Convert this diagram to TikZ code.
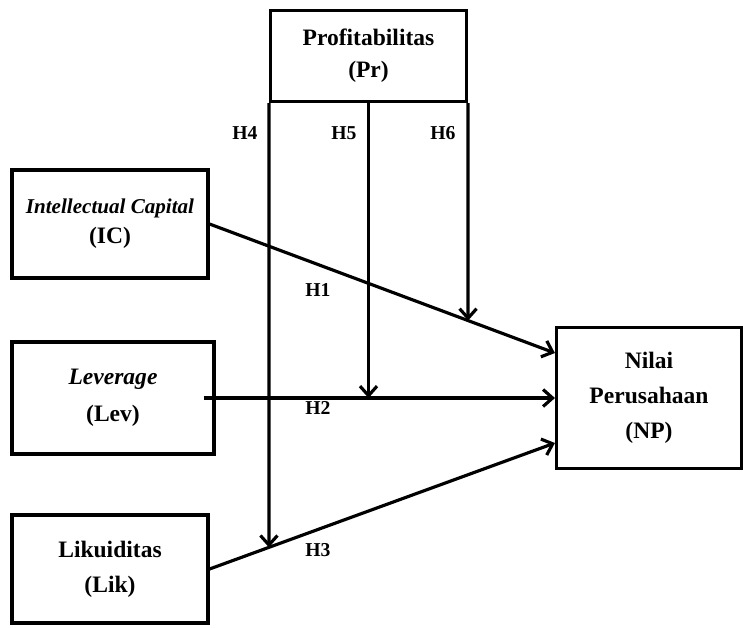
\documentclass[tikz,border=0pt]{standalone}
\usepackage{fontspec}
\setmainfont{Liberation Serif}
\usetikzlibrary{arrows.meta, positioning, calc}
\tikzset{
  varbox/.style={rectangle, draw=black, line width=1.8pt, fill=white, align=center, inner sep=0pt, font=\bfseries\fontsize{13.4}{19}\selectfont},
  hlabel/.style={font=\bfseries\fontsize{11.2}{13}\selectfont, inner sep=0pt},
  myarrow/.style={-{Straight Barb[length=1.9mm, width=3.4mm, line width=1.8pt]}, line width=1.8pt, black},
}

\begin{document}
\begin{tikzpicture}[x=0.02cm, y=-0.02cm]
  \useasboundingbox (0,0) rectangle (743,627);

  % variables
  \node[varbox, minimum width=3.92cm, minimum height=1.82cm] (pr) at (368.5,56) {Profitabilitas\\[-1pt](Pr)};
  \node[varbox, minimum width=3.92cm, minimum height=2.16cm] (ic) at (110,224) {{\itshape\fontsize{12}{16}\selectfont Intellectual Capital}\\[-2pt](IC)};
  \node[varbox, minimum width=4.04cm, minimum height=2.24cm] (lev) at (113,398) {\textit{Leverage}\\[2pt](Lev)};
  \node[varbox, minimum width=3.92cm, minimum height=2.16cm] (lik) at (110,569) {Likuiditas\\[1pt](Lik)};
  \node[varbox, minimum width=3.7cm, minimum height=2.82cm] (np) at (649,398) {Nilai\\[1pt]Perusahaan\\[1pt](NP)};

  % end points on the dependent box
  \coordinate (npH) at ([yshift=0.9cm]np.west);
  \coordinate (npL) at ([yshift=-0.9cm]np.west);
  \coordinate (levOut) at ([xshift=-0.24cm]lev.east);

  % direct effects
  \draw[myarrow] (ic.east) -- (npH);
  \draw[myarrow] (levOut) -- (np.west);
  \draw[myarrow] (lik.east) -- (npL);

  % moderating effects
  \coordinate (pr4) at ([yshift=-12cm]pr.south west);
  \coordinate (pr6) at ([yshift=-12cm]pr.south east);
  \coordinate (m4) at (intersection of lik.east--npL and pr.south west--pr4);
  \coordinate (m6) at (intersection of ic.east--npH and pr.south east--pr6);
  \draw[myarrow] (pr.south west) -- (m4);
  \draw[myarrow] (pr.south) -- (pr.south |- np.west);
  \draw[myarrow] (pr.south east) -- (m6);

  % hypotheses
  \node[hlabel] (h1) at (318,290) {H1};
  \node[hlabel] (h2) at (318,408) {H2};
  \node[hlabel] (h3) at (318,550) {H3};
  \node[hlabel] (h4) at (245,133) {H4};
  \node[hlabel] (h5) at (344,133) {H5};
  \node[hlabel] (h6) at (443,133) {H6};
\end{tikzpicture}
\end{document}
